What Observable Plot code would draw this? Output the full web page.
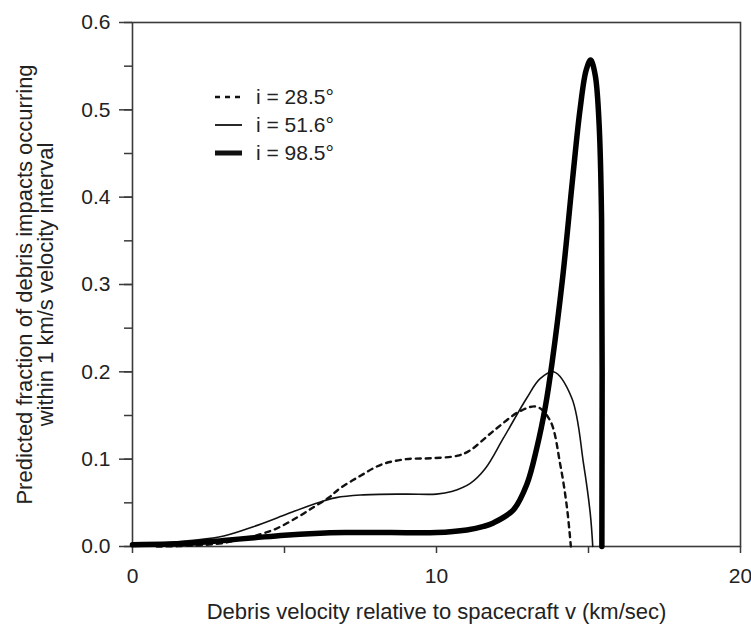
<!DOCTYPE html>
<html>
<head>
<meta charset="utf-8">
<script src="https://cdn.jsdelivr.net/npm/d3@7"></script>
<script src="https://cdn.jsdelivr.net/npm/@observablehq/plot@0.6"></script>
<style>
  html, body { margin: 0; padding: 0; background: #fff; }
  #wrap { position: relative; width: 751px; height: 628px; font-family: "Liberation Sans", Arial, Helvetica, sans-serif; }
  #legend { position: absolute; left: 214px; top: 83px; color: #222; font-size: 21px; }
  #legend .row { display: flex; align-items: center; height: 28px; }
  #legend svg { width: 30px; height: 12px; margin-right: 12px; }
</style>
</head>
<body>
<div id="wrap"></div>
<script>
// ---- data ----
const v285 = [0.8, 2, 3, 3.5, 4, 4.7, 5.45, 6.0, 6.46, 6.8, 7.5, 8.2, 9.0, 9.8, 10.7, 11.1, 11.9, 12.75, 13.3, 13.74, 14.07, 14.29, 14.42];
const f285 = [0.0, 0.001, 0.004, 0.008, 0.012, 0.02, 0.034, 0.046, 0.056, 0.066, 0.081, 0.094, 0.1, 0.101, 0.104, 0.11, 0.133, 0.155, 0.16, 0.144, 0.094, 0.045, 0.0];

const v516 = [0, 1, 2, 3, 4, 5, 6, 6.7, 7.5, 9, 10, 10.5, 11.1, 11.6, 12.2, 12.97, 13.4, 13.85, 14.45, 14.84, 15.06, 15.14];
const f516 = [0.002, 0.004, 0.007, 0.012, 0.023, 0.036, 0.049, 0.056, 0.059, 0.06, 0.06, 0.063, 0.072, 0.089, 0.124, 0.17, 0.192, 0.2, 0.17, 0.094, 0.037, 0.0];

const v985 = [0, 2, 3, 4, 5, 6, 7, 8.5, 10, 11, 11.55, 11.87, 12.53, 12.97, 13.3, 13.58, 13.8, 14.15, 14.48, 14.72, 14.92, 15.07, 15.22, 15.34, 15.43, 15.44];
const f985 = [0.002, 0.004, 0.007, 0.01, 0.013, 0.015, 0.016, 0.016, 0.016, 0.019, 0.023, 0.027, 0.042, 0.071, 0.113, 0.16, 0.21, 0.308, 0.422, 0.5, 0.545, 0.557, 0.54, 0.49, 0.375, 0.0];

const seriesNames = ["i = 28.5°", "i = 51.6°", "i = 98.5°"];
const xTicks = [0, 5, 10, 15, 20];
const xLabelTicks = [0, 10, 20];
const yMinorTicks = [0, 0.05, 0.1, 0.15, 0.2, 0.25, 0.3, 0.35, 0.4, 0.45, 0.5, 0.55, 0.6];
const yLabelTicks = [0, 0.1, 0.2, 0.3, 0.4, 0.5, 0.6];
const xTitle = "Debris velocity relative to spacecraft v (km/sec)";
const yTitle = "Predicted fraction of debris impacts occurring\nwithin 1 km/s velocity interval";

const toRows = (vs, fs) => vs.map((v, i) => ({v, f: fs[i]}));
const d285 = toRows(v285, f285);
const d516 = toRows(v516, f516);
const d985 = toRows(v985, f985);

const font = "Liberation Sans, Arial, Helvetica, sans-serif";
const axisColor = "#3a3a3a";

const chart = Plot.plot({
  width: 751,
  height: 628,
  marginLeft: 132,
  marginRight: 11,
  marginTop: 22,
  marginBottom: 82,
  style: {fontFamily: font, color: "#222"},
  x: {domain: [0, 20]},
  y: {domain: [0, 0.6]},
  marks: [
    Plot.frame({stroke: axisColor, strokeWidth: 1.6}),
    Plot.axisX({ticks: xTicks, tickSize: 7, tickFormat: () => "", label: null, stroke: axisColor, strokeWidth: 1.5}),
    Plot.axisX({ticks: xLabelTicks, tickSize: 0, tickPadding: 22, fontSize: 21, tickFormat: d3.format("d"), label: null}),
    Plot.axisX({ticks: [], tickSize: 0, fontSize: 22, dx: -6, label: xTitle, labelAnchor: "center", labelArrow: "none", labelOffset: 72}),
    Plot.axisY({ticks: yMinorTicks, tickSize: 8, tickFormat: () => "", label: null, stroke: axisColor, strokeWidth: 1.5}),
    Plot.axisY({ticks: yLabelTicks, tickSize: 13, tickPadding: 9, fontSize: 21, tickFormat: d3.format(".1f"),
                label: null, stroke: axisColor, strokeWidth: 1.5}),
    Plot.text([yTitle], {frameAnchor: "left", rotate: -90, dx: -97, text: d => d, fontSize: 22,
                         lineHeight: 0.97, textAnchor: "middle", fill: "#222"}),
    Plot.line(d285, {x: "v", y: "f", curve: "catmull-rom", stroke: "#111", strokeWidth: 2.4, strokeDasharray: "5,5"}),
    Plot.line(d516, {x: "v", y: "f", curve: "catmull-rom", stroke: "#111", strokeWidth: 1.6}),
    Plot.line(d985, {x: "v", y: "f", curve: "catmull-rom", stroke: "#000", strokeWidth: 5.5})
  ]
});

const wrap = document.getElementById("wrap");
wrap.appendChild(chart);

// legend overlay
const legend = document.createElement("div");
legend.id = "legend";
const styles = [
  {w: 2.4, dash: "5,5"},
  {w: 1.8, dash: null},
  {w: 5, dash: null}
];
seriesNames.forEach((name, i) => {
  const row = document.createElement("div");
  row.className = "row";
  const s = styles[i];
  row.innerHTML = `<svg viewBox="0 0 30 12"><line x1="1" y1="6" x2="28" y2="6" stroke="#111" stroke-width="${s.w}"${s.dash ? ` stroke-dasharray="${s.dash}"` : ""}/></svg><span>${name}</span>`;
  legend.appendChild(row);
});
wrap.appendChild(legend);
</script>
</body>
</html>
